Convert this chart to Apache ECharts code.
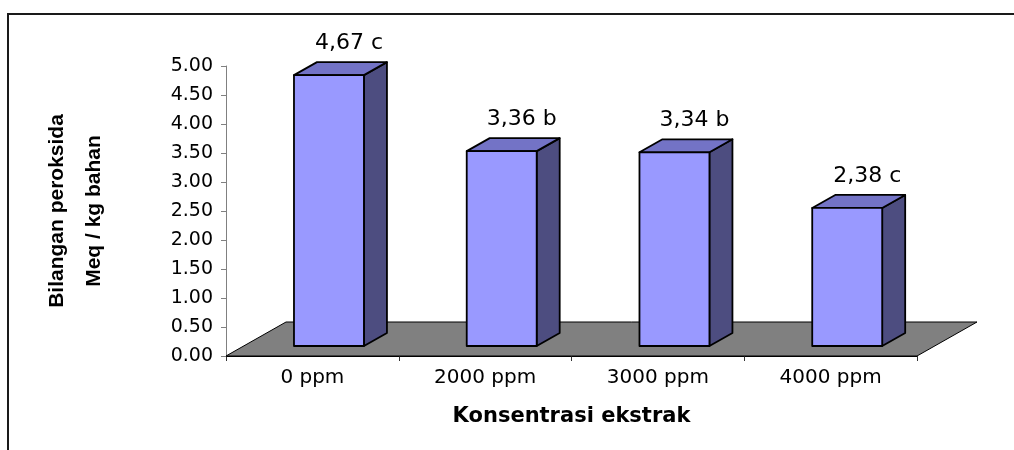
<!DOCTYPE html>
<html><head><meta charset="utf-8">
<script src="https://cdn.jsdelivr.net/npm/echarts@6/dist/echarts.min.js"></script>
<style>html,body{margin:0;padding:0;background:#fff}#c{width:1014px;height:450px}</style>
</head><body><div id="c"></div>
<script>
const categories = ['0 ppm', '2000 ppm', '3000 ppm', '4000 ppm'];
const values = [4.67, 3.36, 3.34, 2.38];
const letters = ['c', 'b', 'b', 'c'];
const yMin = 0, yMax = 5, yStep = 0.5;
const xTitle = 'Konsentrasi ekstrak';
const yTitle = 'Bilangan peroksida\nMeq / kg bahan';

const DX = 23, DY = -13;          // bar depth
const FDX = 60, FDY = -34;        // floor depth
const chart = echarts.init(document.getElementById('c'), null, {renderer: 'canvas'});

function barItem(params, api) {
  const i = api.value(0), v = api.value(1);
  const band = api.size([1, 0])[0];
  const top = api.coord([i, v]);
  const base = api.coord([i, 0]);
  const w = band * 0.405;
  const cx = top[0] + band * 0.096;
  const x0 = cx - w / 2, x1 = cx + w / 2;
  const yT = top[1] - 10, yB = base[1] - 10;
  const stroke = {stroke: '#000', lineWidth: 1.8, lineJoin: 'round'};
  const label = values[i].toFixed(2).replace('.', ',') + ' ' + letters[i];
  return {
    type: 'group',
    children: [
      {type: 'polygon', shape: {points: [[x1, yT], [x1 + DX, yT + DY], [x1 + DX, yB + DY], [x1, yB]]},
       style: Object.assign({fill: '#4D4D80'}, stroke)},
      {type: 'polygon', shape: {points: [[x0, yT], [x0 + DX, yT + DY], [x1 + DX, yT + DY], [x1, yT]]},
       style: Object.assign({fill: '#7373C6'}, stroke)},
      {type: 'rect', shape: {x: x0, y: yT, width: w, height: yB - yT},
       style: Object.assign({fill: '#9999FF'}, stroke)},
      {type: 'text', style: {text: label, x: cx + 20, y: yT - 32, fill: '#000',
        font: '22px "DejaVu Sans"', textAlign: 'center', textVerticalAlign: 'middle'}}
    ]
  };
}

function floorItem(params, api) {
  const band = api.size([1, 0])[0];
  const p0 = api.coord([0, 0]);
  const p3 = api.coord([categories.length - 1, 0]);
  const l = p0[0] - band / 2, r = p3[0] + band / 2, y = p0[1];
  return {
    type: 'polygon',
    shape: {points: [[l, y], [r, y], [r + FDX, y + FDY], [l + FDX, y + FDY]]},
    style: {fill: '#808080', stroke: '#000', lineWidth: 1}
  };
}

chart.setOption({
  animation: false,
  backgroundColor: '#fff',
  graphic: [{type: 'rect', shape: {x: 8, y: 14, width: 1100, height: 500},
    style: {fill: 'none', stroke: '#1a1a1a', lineWidth: 2}, z: -10}],
  grid: {left: 226, right: 97, top: 66, bottom: 94, containLabel: false},
  xAxis: {
    type: 'category', data: categories,
    name: xTitle, nameLocation: 'middle', nameGap: 50,
    nameTextStyle: {fontFamily: 'DejaVu Sans', fontWeight: 'bold', fontSize: 21, lineHeight: 21, color: '#000'},
    axisLine: {lineStyle: {color: '#000', width: 1}},
    axisTick: {show: true, length: 5, lineStyle: {color: '#333'}},
    axisLabel: {fontFamily: 'DejaVu Sans', fontSize: 20, color: '#000', margin: 12},
    splitLine: {show: false}
  },
  yAxis: {
    type: 'value', min: yMin, max: yMax, interval: yStep,
    name: yTitle, nameLocation: 'middle', nameGap: 113,
    nameTextStyle: {fontFamily: 'Liberation Sans', fontWeight: 'bold', fontSize: 21, lineHeight: 37, color: '#000'},
    axisLine: {show: true, lineStyle: {color: '#808080', width: 1}},
    axisTick: {show: true, length: 5, lineStyle: {color: '#808080'}},
    axisLabel: {fontFamily: 'DejaVu Sans', fontSize: 19, color: '#000', margin: 13,
      formatter: v => v.toFixed(2)},
    splitLine: {show: false}
  },
  series: [
    {type: 'custom', z: 1, renderItem: floorItem, data: [[0, 0]], encode: {x: 0, y: 1}, silent: true},
    {type: 'custom', z: 3, renderItem: barItem, data: values.map((v, i) => [i, v]), encode: {x: 0, y: 1}}
  ]
});
</script></body></html>
